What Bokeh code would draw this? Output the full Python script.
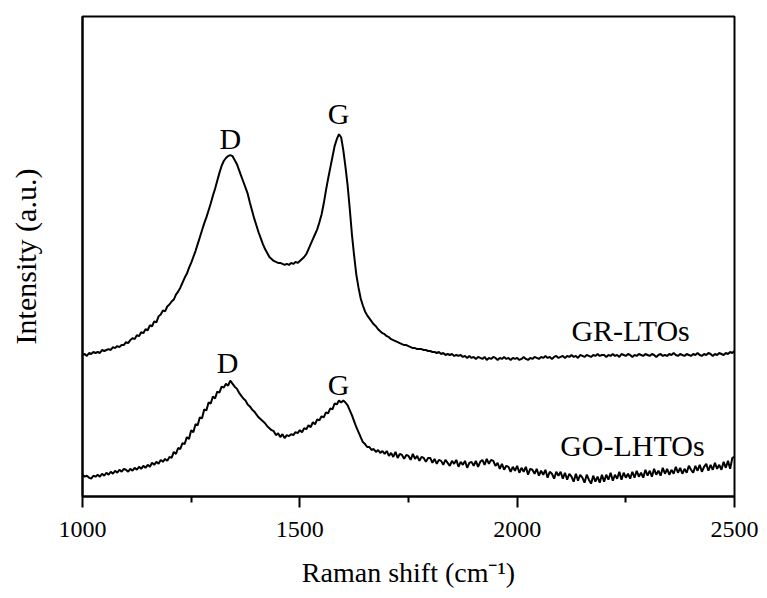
from bokeh.plotting import figure
from bokeh.models import Range1d, FixedTicker, Label
from bokeh.embed import file_html
from bokeh.resources import INLINE

# Raman shift sampling (cm^-1), 5 cm^-1 steps
shift = list(range(1000, 2501, 5))

# GR-LTOs (upper trace), intensity in arbitrary units; one row per 100 cm^-1
gr_ltos = [
    143, 144, 142, 145, 144, 146, 145, 146, 145, 148, 147, 148, 149, 148, 151, 150, 152, 151, 153, 153,
    156, 155, 158, 160, 159, 163, 162, 166, 165, 169, 168, 173, 172, 177, 176, 182, 184, 188, 187, 192,
    194, 197, 199, 204, 207, 211, 216, 221, 225, 231, 236, 242, 248, 255, 262, 269, 276, 282, 289, 296,
    304, 311, 319, 327, 334, 339, 342, 344, 345, 344, 340, 336, 330, 324, 318, 312, 306, 297, 289, 281,
    274, 267, 261, 255, 250, 246, 242, 240, 238, 237, 236, 236, 235, 234, 235, 234, 236, 235, 237, 236,
    238, 240, 242, 245, 250, 255, 260, 265, 270, 277, 285, 296, 309, 321, 332, 343, 354, 361, 366, 363,
    350, 333, 314, 290, 264, 243, 224, 211, 200, 193, 187, 183, 180, 177, 174, 172, 169, 167, 165, 164,
    162, 161, 159, 158, 157, 156, 155, 154, 153, 153, 152, 151, 150, 150, 149, 149, 149, 148, 148, 147,
    147, 146, 146, 145, 146, 144, 145, 143, 144, 143, 144, 142, 143, 142, 143, 141, 142, 140, 142, 140,
    141, 139, 141, 140, 139, 141, 138, 140, 139, 141, 140, 138, 140, 139, 141, 139, 140, 138, 140, 139,
    140, 138, 139, 141, 139, 138, 140, 139, 141, 140, 139, 141, 140, 142, 140, 141, 139, 141, 142, 140,
    141, 142, 140, 142, 141, 143, 141, 142, 140, 143, 142, 141, 143, 142, 141, 143, 142, 144, 142, 143,
    143, 141, 143, 142, 144, 142, 143, 141, 144, 143, 142, 144, 143, 141, 143, 142, 144, 143, 142, 144,
    143, 142, 144, 143, 141, 143, 144, 142, 143, 142, 144, 143, 145, 143, 142, 144, 143, 142, 144, 143,
    142, 144, 143, 145, 143, 142, 144, 143, 145, 144, 142, 144, 143, 145, 144, 143, 145, 144, 146, 145,
    147,
]

# GO-LHTOs (lower trace)
go_lhtos = [
    22, 20, 21, 19, 18, 21, 20, 22, 20, 23, 21, 24, 22, 25, 23, 26, 24, 27, 25, 28,
    27, 25, 28, 26, 29, 27, 30, 28, 31, 29, 32, 30, 34, 32, 35, 33, 37, 35, 38, 36,
    40, 39, 45, 43, 49, 48, 54, 53, 60, 58, 67, 65, 73, 72, 80, 79, 88, 87, 95, 94,
    101, 99, 106, 105, 111, 110, 114, 112, 117, 114, 111, 109, 105, 102, 99, 97, 93, 91, 88, 86,
    83, 80, 78, 76, 74, 71, 69, 67, 66, 62, 64, 60, 63, 59, 62, 61, 63, 62, 65, 64,
    67, 65, 69, 68, 72, 70, 75, 73, 78, 77, 81, 80, 85, 84, 89, 88, 94, 93, 97, 95,
    97, 95, 92, 87, 82, 76, 70, 65, 60, 55, 53, 50, 50, 47, 48, 45, 47, 44, 46, 43,
    46, 41, 44, 40, 45, 39, 43, 42, 38, 42, 41, 37, 43, 38, 41, 36, 40, 39, 35, 39,
    39, 34, 38, 33, 37, 36, 32, 37, 34, 31, 36, 33, 37, 30, 35, 32, 36, 29, 34, 35,
    31, 36, 30, 35, 37, 32, 38, 33, 37, 36, 31, 34, 28, 33, 27, 31, 30, 25, 30, 26,
    31, 24, 29, 25, 30, 22, 28, 27, 23, 28, 21, 26, 22, 27, 19, 25, 23, 18, 25, 21,
    25, 18, 24, 17, 23, 20, 15, 23, 16, 22, 19, 14, 22, 17, 13, 21, 15, 20, 14, 22,
    15, 22, 17, 24, 16, 22, 18, 25, 17, 24, 19, 23, 18, 25, 19, 26, 20, 24, 19, 27,
    21, 26, 20, 28, 22, 26, 21, 29, 23, 28, 22, 27, 23, 30, 24, 29, 23, 28, 24, 31,
    27, 24, 31, 26, 32, 25, 30, 33, 26, 32, 27, 34, 28, 32, 27, 35, 29, 36, 28, 39,
    40,
]

x_major = [1000, 1500, 2000, 2500]
x_minor = [1250, 1750, 2250]

SERIF = "Liberation Serif"

p = figure(width=760, height=590, output_backend="svg", toolbar_location=None,
           x_range=Range1d(1000, 2500), y_range=Range1d(0, 485),
           min_border_left=82, min_border_right=26, min_border_top=16,
           min_border_bottom=89)

p.line(shift, gr_ltos, line_color="black", line_width=2)
p.line(shift, go_lhtos, line_color="black", line_width=2)

p.grid.visible = False
p.outline_line_color = "black"
p.outline_line_width = 2
p.outline_line_alpha = 1.0
p.background_fill_color = "white"
p.border_fill_color = "white"

xa = p.xaxis[0]
xa.ticker = FixedTicker(ticks=x_major, minor_ticks=x_minor)
xa.axis_line_width = 2
xa.major_tick_line_width = 2
xa.minor_tick_line_width = 2
xa.major_tick_in = 0
xa.major_tick_out = 11
xa.minor_tick_in = 0
xa.minor_tick_out = 6
xa.major_label_text_font = SERIF
xa.major_label_text_font_size = "24px"
xa.major_label_text_color = "black"
xa.major_label_standoff = 14
xa.axis_label = "Raman shift (cm\u207b\u00b9)"
xa.axis_label_text_font = SERIF
xa.axis_label_text_font_size = "28px"
xa.axis_label_text_font_style = "normal"
xa.axis_label_text_color = "black"
xa.axis_label_standoff = 17

ya = p.yaxis[0]
ya.ticker = FixedTicker(ticks=[], minor_ticks=[])
ya.axis_line_width = 2
ya.major_tick_line_color = None
ya.minor_tick_line_color = None
ya.major_label_standoff = 0
ya.axis_label = "Intensity (a.u.)"
ya.axis_label_text_font = SERIF
ya.axis_label_text_font_size = "30px"
ya.axis_label_text_font_style = "normal"
ya.axis_label_text_color = "black"
ya.axis_label_standoff = 41

def note(x, y, t):
    p.add_layout(Label(x=x, y=y, text=t, text_font=SERIF, text_font_size="30px",
                       text_color="black", text_align="center", text_baseline="alphabetic"))

note(1340, 362, "D")
note(1589, 387, "G")
note(2261, 168, "GR-LTOs")
note(1334, 135, "D")
note(1589, 113, "G")
note(2265, 52, "GO-LHTOs")

open("out.html", "w").write(file_html(p, INLINE))
